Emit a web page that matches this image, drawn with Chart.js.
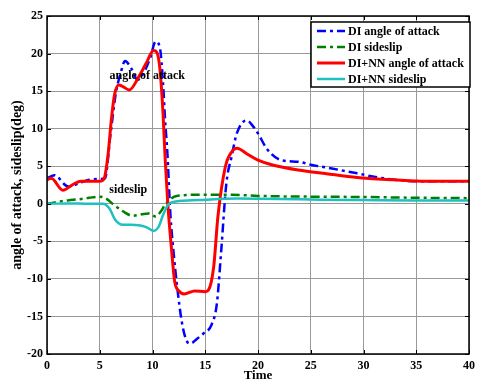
<!DOCTYPE html>
<html>
<head>
<meta charset="utf-8">
<script src="https://cdn.jsdelivr.net/npm/chart.js@4/dist/chart.umd.min.js"></script>
<style>
html,body{margin:0;padding:0;background:#fff;}
#wrap{width:480px;height:383px;position:relative;}
</style>
</head>
<body>
<div id="wrap"><canvas id="c" width="480" height="383"></canvas></div>
<script>
// ---- data ----
const seriesNames = ['DI angle of attack', 'DI sideslip', 'DI+NN angle of attack', 'DI+NN sideslip'];

const blueX = [0, 0.7, 2.0, 3.0, 4.0, 5.0, 5.5, 6.0, 6.5, 7.0, 7.4, 8.0, 8.6, 9.3, 9.8, 10.3, 10.7, 11.0, 11.2, 11.4, 11.7, 12.0, 12.3, 12.8, 13.3, 13.6, 14.2, 14.8, 15.6, 16.1, 16.5, 17.0, 17.5, 18.0, 18.9, 19.8, 20.9, 22.2, 23.8, 25, 27, 29.4, 31, 33, 35, 40];
const blueY = [3.4, 3.8, 2.3, 2.7, 3.2, 3.3, 3.4, 9.0, 14.5, 17.5, 19.0, 18.0, 16.5, 17.8, 19.5, 21.6, 20.8, 16.0, 11.0, 7.0, -1.5, -6.5, -10.6, -15.9, -18.4, -18.6, -18.0, -17.3, -16.1, -13.3, -6.5, 2.7, 6.3, 9.4, 11.1, 9.8, 7.2, 5.8, 5.6, 5.2, 4.7, 4.05, 3.6, 3.2, 3.0, 3.0];

const greenX = [0, 1, 2, 3, 4, 5.0, 5.6, 6.3, 7.2, 8.1, 9.0, 9.6, 10.3, 10.8, 11.2, 12.2, 14.4, 17.5, 20, 25, 30, 35, 40];
const greenY = [0, 0.25, 0.45, 0.6, 0.8, 0.95, 0.7, -0.1, -1.0, -1.6, -1.4, -1.3, -1.7, -1.0, -0.1, 1.0, 1.2, 1.2, 1.05, 0.95, 0.9, 0.8, 0.75];

const redX = [0, 0.4, 1.5, 2.5, 3.2, 4, 5.0, 5.4, 5.8, 6.1, 6.4, 6.8, 7.2, 7.8, 8.7, 9.4, 10.1, 10.4, 10.7, 11.0, 11.2, 11.45, 11.8, 12.1, 12.5, 13.0, 14.0, 15.0, 15.3, 15.8, 16.2, 16.9, 17.5, 18.0, 19.0, 20.0, 21.3, 23.8, 26.5, 29.4, 32.8, 36, 40];
const redY = [3.2, 3.4, 1.8, 2.6, 3.0, 3.0, 3.0, 3.3, 6.7, 11.2, 14.5, 15.8, 15.6, 15.15, 16.9, 18.7, 20.4, 20.2, 18.0, 12.0, 6.0, 0.0, -6.0, -10.3, -11.6, -12.0, -11.6, -11.7, -11.5, -8.4, -1.7, 4.9, 6.9, 7.4, 6.6, 5.8, 5.2, 4.5, 4.0, 3.5, 3.2, 3.0, 3.0];

const cyanX = [0, 2, 4, 5.3, 5.9, 6.5, 7.2, 8.0, 8.7, 9.4, 10.1, 10.6, 11.0, 11.5, 12.2, 14.4, 18, 22, 26, 30, 35, 40];
const cyanY = [0, 0.05, 0.0, 0.0, -0.6, -2.2, -2.8, -2.8, -2.85, -3.1, -3.6, -3.0, -1.5, -0.1, 0.3, 0.5, 0.7, 0.65, 0.55, 0.5, 0.45, 0.45];

const xTicks = [0, 5, 10, 15, 20, 25, 30, 35, 40];
const yTicks = [-20, -15, -10, -5, 0, 5, 10, 15, 20, 25];

const annoTexts = ['angle of attack', 'sideslip'];
const annoX = [9.5, 5.9];
const annoY = [17.0, 1.8];

// ---- build datasets ----
function pts(xs, ys) { return xs.map((x, i) => ({x: x, y: ys[i]})); }

const SERIF = '"Liberation Serif", "Times New Roman", serif';

const datasets = [
  {label: seriesNames[0], data: pts(blueX, blueY), borderColor: '#0000ff', borderWidth: 2.5, borderDash: [9, 4, 3, 4], order: 4},
  {label: seriesNames[1], data: pts(greenX, greenY), borderColor: '#008000', borderWidth: 2.5, borderDash: [9, 4, 3, 4], order: 3},
  {label: seriesNames[2], data: pts(redX, redY), borderColor: '#ff0000', borderWidth: 3, borderDash: [], order: 2},
  {label: seriesNames[3], data: pts(cyanX, cyanY), borderColor: '#1ec0c0', borderWidth: 2.5, borderDash: [], order: 1}
];
datasets.forEach(d => { d.pointRadius = 0; d.fill = false; d.cubicInterpolationMode = 'monotone'; });

const framePlugin = {
  id: 'frame',
  afterDraw(chart) {
    const ctx = chart.ctx, a = chart.chartArea;
    const xs = chart.scales.x, ys = chart.scales.y;
    ctx.save();
    // annotations
    ctx.font = 'bold 12px ' + SERIF;
    ctx.fillStyle = '#000';
    ctx.textBaseline = 'middle';
    ctx.textAlign = 'center';
    ctx.fillText(annoTexts[0], xs.getPixelForValue(annoX[0]), ys.getPixelForValue(annoY[0]));
    ctx.textAlign = 'left';
    ctx.fillText(annoTexts[1], xs.getPixelForValue(annoX[1]), ys.getPixelForValue(annoY[1]));
    // border
    ctx.strokeStyle = '#000';
    ctx.lineWidth = 1.5;
    ctx.setLineDash([]);
    ctx.strokeRect(a.left, a.top, a.right - a.left, a.bottom - a.top);
    // inward ticks
    ctx.lineWidth = 1;
    const tl = 4;
    ctx.beginPath();
    xTicks.forEach(v => {
      const p = Math.round(xs.getPixelForValue(v)) + 0.5;
      ctx.moveTo(p, a.bottom); ctx.lineTo(p, a.bottom - tl);
      ctx.moveTo(p, a.top); ctx.lineTo(p, a.top + tl);
    });
    yTicks.forEach(v => {
      const p = Math.round(ys.getPixelForValue(v)) + 0.5;
      ctx.moveTo(a.left, p); ctx.lineTo(a.left + tl, p);
      ctx.moveTo(a.right, p); ctx.lineTo(a.right - tl, p);
    });
    ctx.stroke();
    // legend
    const lx = 311, ly = 22, lw = 159, lh = 65;
    ctx.fillStyle = '#fff';
    ctx.fillRect(lx, ly, lw, lh);
    ctx.lineWidth = 1.5;
    ctx.strokeStyle = '#000';
    ctx.strokeRect(lx, ly, lw, lh);
    ctx.font = 'bold 12px ' + SERIF;
    ctx.textAlign = 'left';
    ctx.textBaseline = 'middle';
    datasets.forEach((d, i) => {
      const yy = ly + 9 + i * 16;
      ctx.strokeStyle = d.borderColor;
      ctx.lineWidth = d.borderWidth;
      ctx.setLineDash(d.borderDash);
      ctx.beginPath();
      ctx.moveTo(lx + 6, yy); ctx.lineTo(lx + 34, yy);
      ctx.stroke();
      ctx.setLineDash([]);
      ctx.fillStyle = '#000';
      ctx.fillText(d.label, lx + 37, yy + 0.5);
    });
    ctx.restore();
  }
};

new Chart(document.getElementById('c'), {
  type: 'line',
  data: {datasets: datasets},
  options: {
    responsive: false,
    animation: false,
    devicePixelRatio: 1,
    layout: {padding: {top: 16, right: 7, left: 0, bottom: 0}},
    plugins: {legend: {display: false}, tooltip: {enabled: false}, title: {display: false}},
    scales: {
      x: {
        type: 'linear', min: 0, max: 40,
        afterBuildTicks(s) { s.ticks = xTicks.map(v => ({value: v})); },
        afterFit(s) { s.height = 29; },
        grid: {color: '#999', lineWidth: 1, drawTicks: false},
        border: {display: false},
        ticks: {color: '#000', padding: 5, font: {family: SERIF, size: 12, weight: 'bold'}, maxRotation: 0},
        title: {display: true, text: 'Time', color: '#000', font: {family: SERIF, size: 13, weight: 'bold'}, padding: {top: 0, bottom: 0}}
      },
      y: {
        type: 'linear', min: -20, max: 25,
        afterBuildTicks(s) { s.ticks = yTicks.map(v => ({value: v})); },
        afterFit(s) { s.width = 47; },
        grid: {color: '#999', lineWidth: 1, drawTicks: false},
        border: {display: false},
        ticks: {color: '#000', padding: 4, font: {family: SERIF, size: 12, weight: 'bold'}},
        title: {display: true, text: 'angle of attack, sideslip(deg)', color: '#000', font: {family: SERIF, size: 14, weight: 'bold'}, padding: {top: 9, bottom: 0}}
      }
    }
  },
  plugins: [framePlugin]
});
</script>
</body>
</html>
